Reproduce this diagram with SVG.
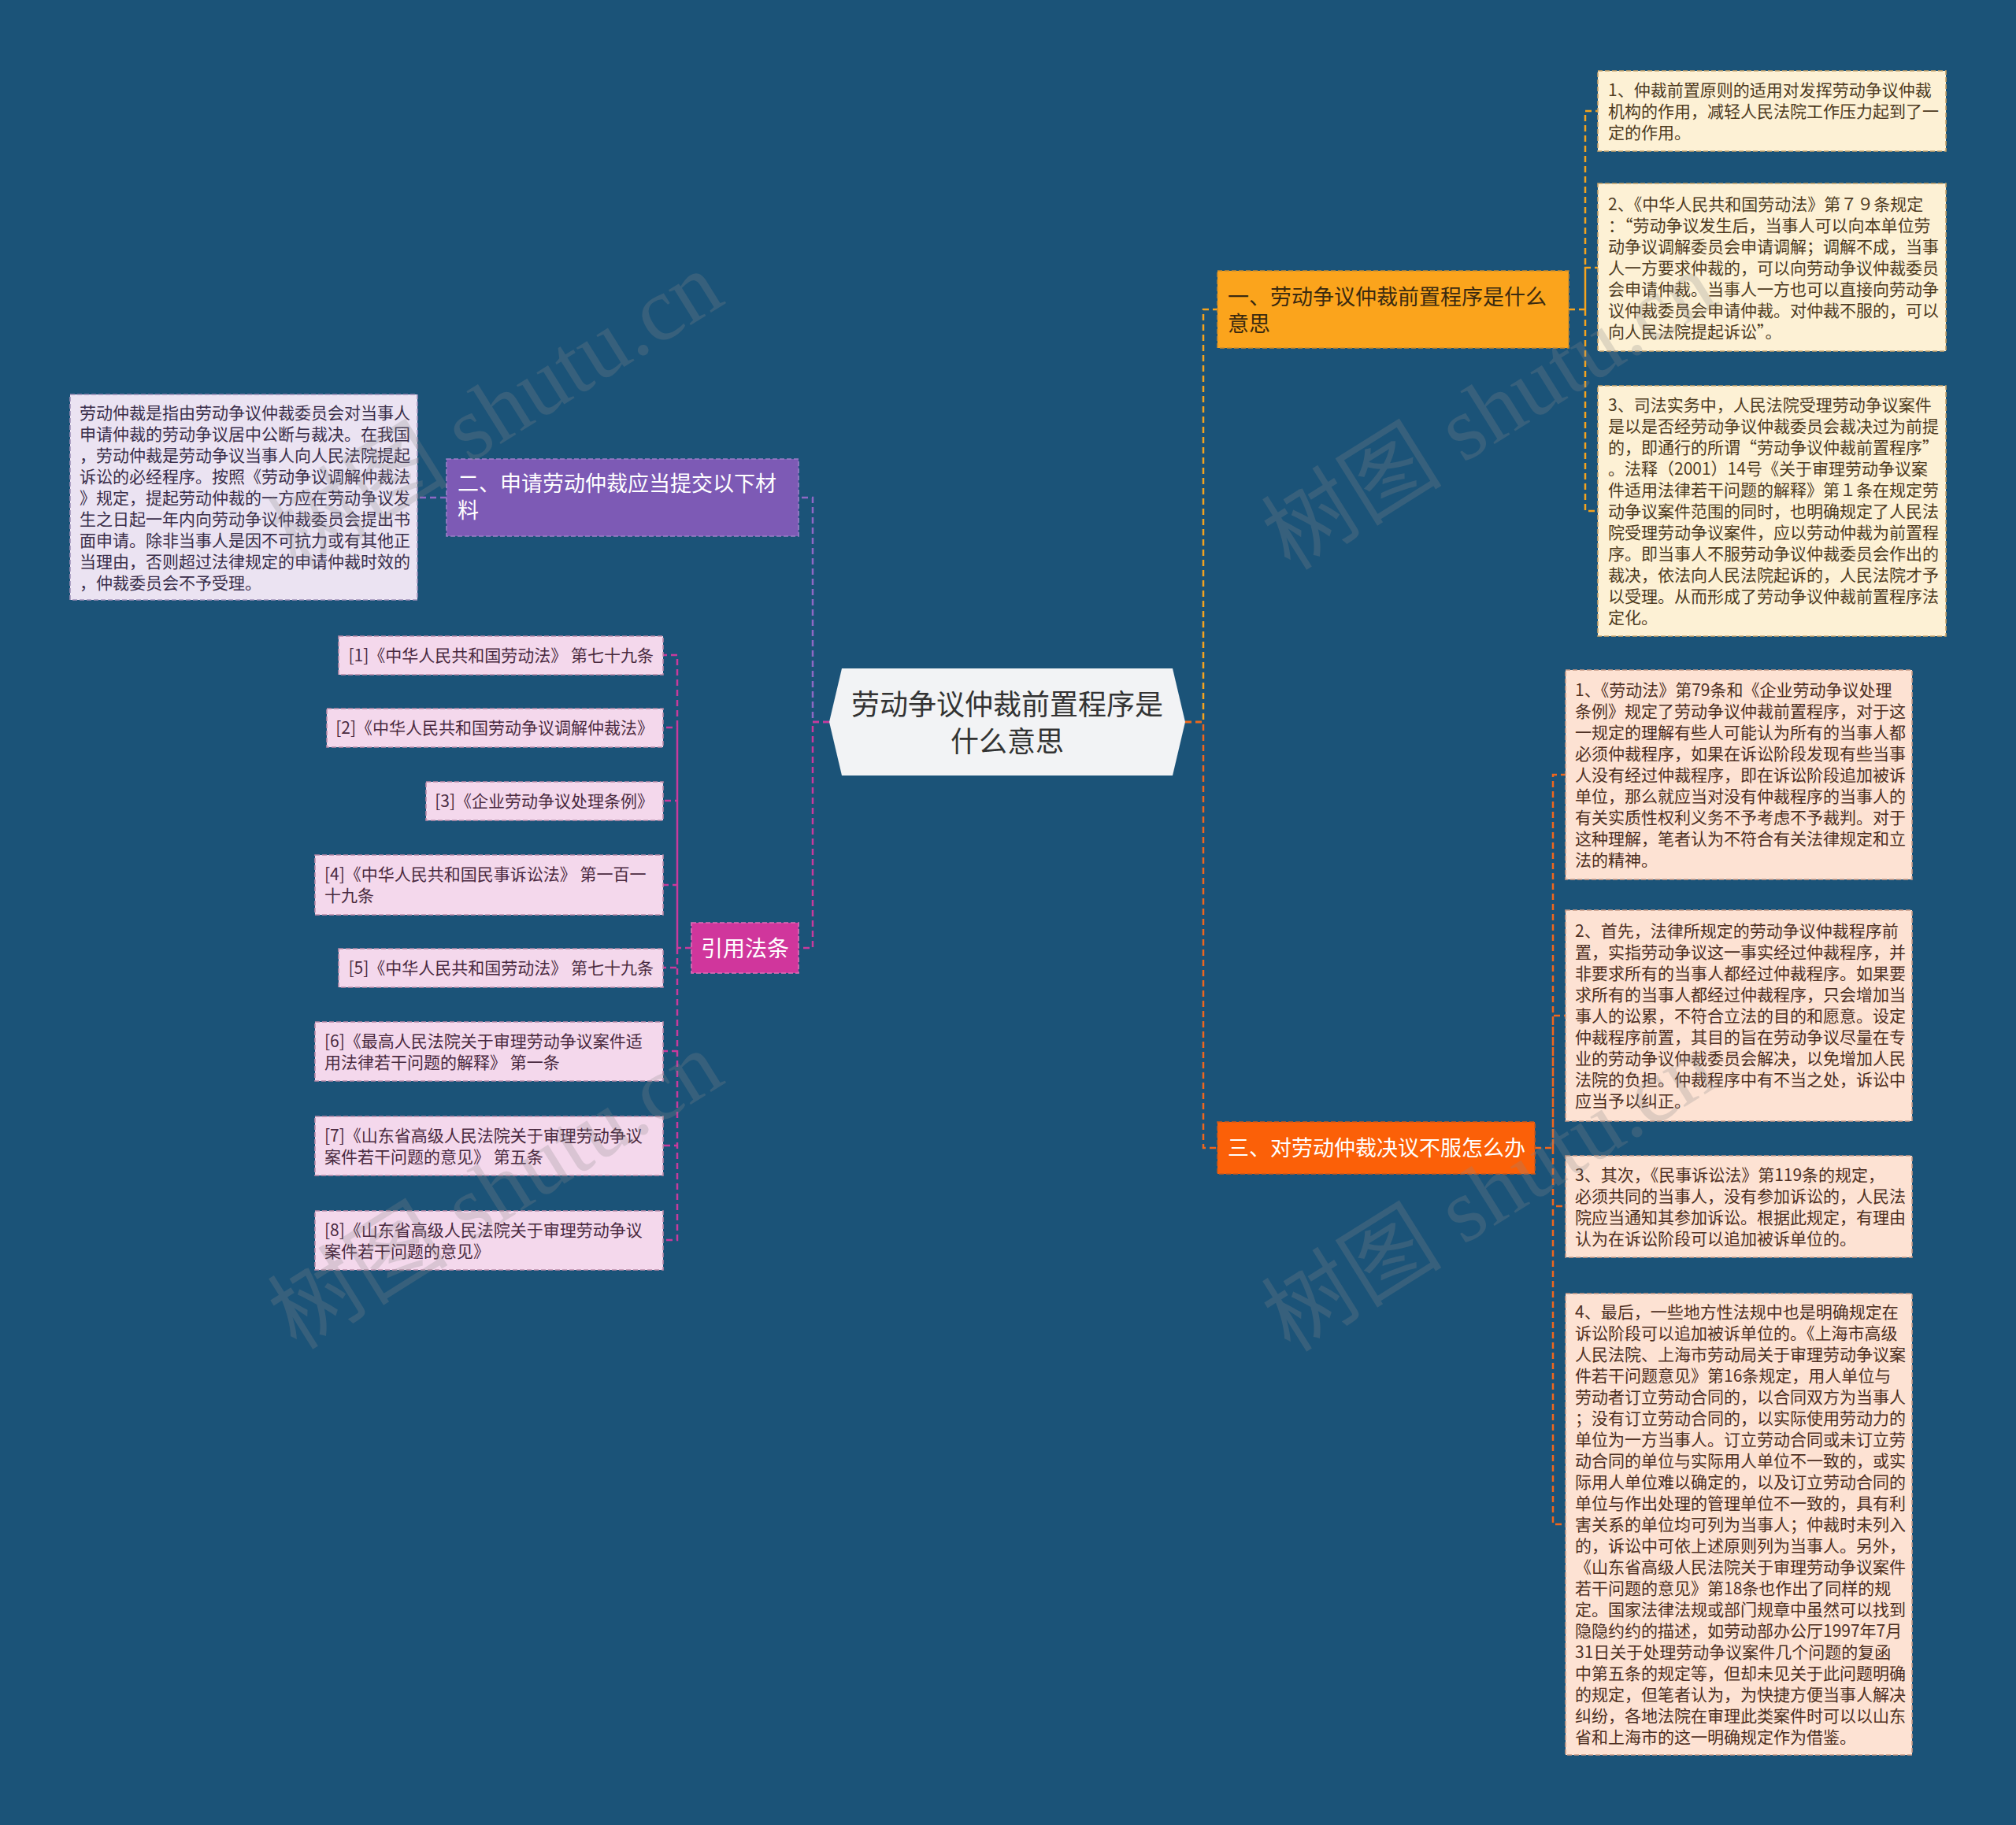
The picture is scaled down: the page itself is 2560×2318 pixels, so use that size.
<svg xmlns="http://www.w3.org/2000/svg" width="2560" height="2318" viewBox="0 0 2560 2318">
<style>
text{font-family:"Noto Sans CJK SC","Noto Sans",sans-serif}
.lf{font-size:21px}
.c{fill:none;stroke-width:2.5;stroke-dasharray:8 5}
.bx{stroke-width:1.6;stroke-dasharray:6 3}
.wm{font-family:"Liberation Serif","Noto Sans CJK SC",serif;font-size:115px;fill:#8a8a8a;opacity:0.25}
</style>
<rect x="0" y="0" width="2560" height="2318" fill="#1b5378"/>
<g id="connectors">
<path class="c" stroke="#f5a31d" d="M1505,917 H1528 V393 H1546"/>
<path class="c" stroke="#f0661c" d="M1505,917 H1528 V1458 H1546"/>
<path class="c" stroke="#8e68c4" d="M1053,917 H1032 V632 H1014"/>
<path class="c" stroke="#c93a9c" d="M1053,917 H1032 V1204 H1014"/>
<path class="c" stroke="#f5a31d" d="M1992,393 H2013 V141 H2029 M2013,393 V340 H2029 M2013,393 V649 H2029"/>
<path class="c" stroke="#f0661c" d="M1949,1458 H1972 V984 H1988 M1972,1458 V1290 H1988 M1972,1458 V1532 H1988 M1972,1458 V1936 H1988"/>
<path class="c" stroke="#8e68c4" d="M567,632 H530"/>
<path class="c" stroke="#c93a9c" d="M878,1204 H860 V832 H842 M860,1204 V924 H842 M860,1204 V1017 H842 M860,1204 V1124 H842 M860,1204 V1229 H842 M860,1204 V1335 H842 M860,1204 V1455 H842 M860,1204 V1575 H842"/>
</g>
<g id="center">
<polygon points="1069,849 1489,849 1505,917 1489,985 1069,985 1053,917" fill="#f2f3f5"/>
<text x="1279" y="908" font-size="36" fill="#333" text-anchor="middle">劳动争议仲裁前置程序是</text>
<text x="1279" y="955" font-size="36" fill="#333" text-anchor="middle">什么意思</text>
</g>
<g id="branch1">
<rect class="bx" x="1546" y="344" width="446" height="98" fill="#fba41c" stroke="#c98b2e"/>
<text x="1559" y="387" font-size="27" fill="#3a2a10">一、劳动争议仲裁前置程序是什么</text>
<text x="1559" y="421" font-size="27" fill="#3a2a10">意思</text>
</g>
<g id="branch2">
<rect class="bx" x="567" y="583" width="447" height="98" fill="#7d5ab5" stroke="#9c80c8"/>
<text x="581" y="624" font-size="27" fill="#fff">二、申请劳动仲裁应当提交以下材</text>
<text x="581" y="658" font-size="27" fill="#fff">料</text>
</g>
<g id="branch3">
<rect class="bx" x="1546" y="1425" width="403" height="66" fill="#fb6008" stroke="#c9581c"/>
<text x="1559" y="1468" font-size="27" fill="#fff">三、对劳动仲裁决议不服怎么办</text>
</g>
<g id="branch4">
<rect class="bx" x="878" y="1172" width="136" height="64" fill="#d0369c" stroke="#e070b8"/>
<text x="946" y="1215" font-size="28" fill="#fff" text-anchor="middle">引用法条</text>
</g>
<g id="b1-leaf1">
<rect class="bx" x="2029" y="90" width="442" height="102" fill="#fdf1d5" stroke="#c9a46a"/>
<text class="lf" fill="#4e3b1f"><tspan x="2042" y="122">1、仲裁前置原则的适用对发挥劳动争议仲裁</tspan><tspan x="2042" y="149">机构的作用，减轻人民法院工作压力起到了一</tspan><tspan x="2042" y="176">定的作用。</tspan></text>
</g>
<g id="b1-leaf2">
<rect class="bx" x="2029" y="233" width="442" height="213" fill="#fdf1d5" stroke="#c9a46a"/>
<text class="lf" fill="#4e3b1f"><tspan x="2042" y="266.5">2、《中华人民共和国劳动法》第７９条规定</tspan><tspan x="2042" y="293.5">：“劳动争议发生后，当事人可以向本单位劳</tspan><tspan x="2042" y="320.5">动争议调解委员会申请调解；调解不成，当事</tspan><tspan x="2042" y="347.5">人一方要求仲裁的，可以向劳动争议仲裁委员</tspan><tspan x="2042" y="374.5">会申请仲裁。当事人一方也可以直接向劳动争</tspan><tspan x="2042" y="401.5">议仲裁委员会申请仲裁。对仲裁不服的，可以</tspan><tspan x="2042" y="428.5">向人民法院提起诉讼”。</tspan></text>
</g>
<g id="b1-leaf3">
<rect class="bx" x="2029" y="490" width="442" height="318" fill="#fdf1d5" stroke="#c9a46a"/>
<text class="lf" fill="#4e3b1f"><tspan x="2042" y="522">3、司法实务中，人民法院受理劳动争议案件</tspan><tspan x="2042" y="549">是以是否经劳动争议仲裁委员会裁决过为前提</tspan><tspan x="2042" y="576">的，即通行的所谓“劳动争议仲裁前置程序”</tspan><tspan x="2042" y="603">。法释（2001）14号《关于审理劳动争议案</tspan><tspan x="2042" y="630">件适用法律若干问题的解释》第１条在规定劳</tspan><tspan x="2042" y="657">动争议案件范围的同时，也明确规定了人民法</tspan><tspan x="2042" y="684">院受理劳动争议案件，应以劳动仲裁为前置程</tspan><tspan x="2042" y="711">序。即当事人不服劳动争议仲裁委员会作出的</tspan><tspan x="2042" y="738">裁决，依法向人民法院起诉的，人民法院才予</tspan><tspan x="2042" y="765">以受理。从而形成了劳动争议仲裁前置程序法</tspan><tspan x="2042" y="792">定化。</tspan></text>
</g>
<g id="b3-leaf1">
<rect class="bx" x="1988" y="851" width="440" height="266" fill="#fde2d3" stroke="#c99a86"/>
<text class="lf" fill="#4d2f22"><tspan x="2000" y="884">1、《劳动法》第79条和《企业劳动争议处理</tspan><tspan x="2000" y="911">条例》规定了劳动争议仲裁前置程序，对于这</tspan><tspan x="2000" y="938">一规定的理解有些人可能认为所有的当事人都</tspan><tspan x="2000" y="965">必须仲裁程序，如果在诉讼阶段发现有些当事</tspan><tspan x="2000" y="992">人没有经过仲裁程序，即在诉讼阶段追加被诉</tspan><tspan x="2000" y="1019">单位，那么就应当对没有仲裁程序的当事人的</tspan><tspan x="2000" y="1046">有关实质性权利义务不予考虑不予裁判。对于</tspan><tspan x="2000" y="1073">这种理解，笔者认为不符合有关法律规定和立</tspan><tspan x="2000" y="1100">法的精神。</tspan></text>
</g>
<g id="b3-leaf2">
<rect class="bx" x="1988" y="1156" width="440" height="268" fill="#fde2d3" stroke="#c99a86"/>
<text class="lf" fill="#4d2f22"><tspan x="2000" y="1190">2、首先，法律所规定的劳动争议仲裁程序前</tspan><tspan x="2000" y="1217">置，实指劳动争议这一事实经过仲裁程序，并</tspan><tspan x="2000" y="1244">非要求所有的当事人都经过仲裁程序。如果要</tspan><tspan x="2000" y="1271">求所有的当事人都经过仲裁程序，只会增加当</tspan><tspan x="2000" y="1298">事人的讼累，不符合立法的目的和愿意。设定</tspan><tspan x="2000" y="1325">仲裁程序前置，其目的旨在劳动争议尽量在专</tspan><tspan x="2000" y="1352">业的劳动争议仲裁委员会解决，以免增加人民</tspan><tspan x="2000" y="1379">法院的负担。仲裁程序中有不当之处，诉讼中</tspan><tspan x="2000" y="1406">应当予以纠正。</tspan></text>
</g>
<g id="b3-leaf3">
<rect class="bx" x="1988" y="1468" width="440" height="129" fill="#fde2d3" stroke="#c99a86"/>
<text class="lf" fill="#4d2f22"><tspan x="2000" y="1500">3、其次，《民事诉讼法》第119条的规定，</tspan><tspan x="2000" y="1527">必须共同的当事人，没有参加诉讼的，人民法</tspan><tspan x="2000" y="1554">院应当通知其参加诉讼。根据此规定，有理由</tspan><tspan x="2000" y="1581">认为在诉讼阶段可以追加被诉单位的。</tspan></text>
</g>
<g id="b3-leaf4">
<rect class="bx" x="1988" y="1643" width="440" height="586" fill="#fde2d3" stroke="#c99a86"/>
<text class="lf" fill="#4d2f22"><tspan x="2000" y="1674">4、最后，一些地方性法规中也是明确规定在</tspan><tspan x="2000" y="1701">诉讼阶段可以追加被诉单位的。《上海市高级</tspan><tspan x="2000" y="1728">人民法院、上海市劳动局关于审理劳动争议案</tspan><tspan x="2000" y="1755">件若干问题意见》第16条规定，用人单位与</tspan><tspan x="2000" y="1782">劳动者订立劳动合同的，以合同双方为当事人</tspan><tspan x="2000" y="1809">；没有订立劳动合同的，以实际使用劳动力的</tspan><tspan x="2000" y="1836">单位为一方当事人。订立劳动合同或未订立劳</tspan><tspan x="2000" y="1863">动合同的单位与实际用人单位不一致的，或实</tspan><tspan x="2000" y="1890">际用人单位难以确定的，以及订立劳动合同的</tspan><tspan x="2000" y="1917">单位与作出处理的管理单位不一致的，具有利</tspan><tspan x="2000" y="1944">害关系的单位均可列为当事人；仲裁时未列入</tspan><tspan x="2000" y="1971">的，诉讼中可依上述原则列为当事人。另外，</tspan><tspan x="2000" y="1998">《山东省高级人民法院关于审理劳动争议案件</tspan><tspan x="2000" y="2025">若干问题的意见》第18条也作出了同样的规</tspan><tspan x="2000" y="2052">定。国家法律法规或部门规章中虽然可以找到</tspan><tspan x="2000" y="2079">隐隐约约的描述，如劳动部办公厅1997年7月</tspan><tspan x="2000" y="2106">31日关于处理劳动争议案件几个问题的复函</tspan><tspan x="2000" y="2133">中第五条的规定等，但却未见关于此问题明确</tspan><tspan x="2000" y="2160">的规定，但笔者认为，为快捷方便当事人解决</tspan><tspan x="2000" y="2187">纠纷，各地法院在审理此类案件时可以以山东</tspan><tspan x="2000" y="2214">省和上海市的这一明确规定作为借鉴。</tspan></text>
</g>
<g id="b2-leaf">
<rect class="bx" x="89" y="501" width="441" height="261" fill="#ebe3f2" stroke="#9f90b8"/>
<text class="lf" fill="#3a2e4a"><tspan x="101" y="531.5">劳动仲裁是指由劳动争议仲裁委员会对当事人</tspan><tspan x="101" y="558.5">申请仲裁的劳动争议居中公断与裁决。在我国</tspan><tspan x="101" y="585.5">，劳动仲裁是劳动争议当事人向人民法院提起</tspan><tspan x="101" y="612.5">诉讼的必经程序。按照《劳动争议调解仲裁法</tspan><tspan x="101" y="639.5">》规定，提起劳动仲裁的一方应在劳动争议发</tspan><tspan x="101" y="666.5">生之日起一年内向劳动争议仲裁委员会提出书</tspan><tspan x="101" y="693.5">面申请。除非当事人是因不可抗力或有其他正</tspan><tspan x="101" y="720.5">当理由，否则超过法律规定的申请仲裁时效的</tspan><tspan x="101" y="747.5">，仲裁委员会不予受理。</tspan></text>
</g>
<g id="cite1">
<rect class="bx" x="430" y="808" width="412" height="49" fill="#f4d8ec" stroke="#b98aa8"/>
<text class="lf" x="830" y="840" fill="#4a2a40" text-anchor="end">[1]《中华人民共和国劳动法》 第七十九条</text>
</g>
<g id="cite2">
<rect class="bx" x="415" y="900" width="427" height="49" fill="#f4d8ec" stroke="#b98aa8"/>
<text class="lf" x="830" y="932" fill="#4a2a40" text-anchor="end">[2]《中华人民共和国劳动争议调解仲裁法》</text>
</g>
<g id="cite3">
<rect class="bx" x="541" y="993" width="301" height="49" fill="#f4d8ec" stroke="#b98aa8"/>
<text class="lf" x="830" y="1025" fill="#4a2a40" text-anchor="end">[3]《企业劳动争议处理条例》</text>
</g>
<g id="cite4">
<rect class="bx" x="400" y="1086" width="442" height="76" fill="#f4d8ec" stroke="#b98aa8"/>
<text class="lf" fill="#4a2a40"><tspan x="412" y="1118">[4]《中华人民共和国民事诉讼法》 第一百一</tspan><tspan x="412" y="1145">十九条</tspan></text>
</g>
<g id="cite5">
<rect class="bx" x="430" y="1205" width="412" height="49" fill="#f4d8ec" stroke="#b98aa8"/>
<text class="lf" x="830" y="1237" fill="#4a2a40" text-anchor="end">[5]《中华人民共和国劳动法》 第七十九条</text>
</g>
<g id="cite6">
<rect class="bx" x="400" y="1298" width="442" height="75" fill="#f4d8ec" stroke="#b98aa8"/>
<text class="lf" fill="#4a2a40"><tspan x="412" y="1330">[6]《最高人民法院关于审理劳动争议案件适</tspan><tspan x="412" y="1357">用法律若干问题的解释》 第一条</tspan></text>
</g>
<g id="cite7">
<rect class="bx" x="400" y="1418" width="442" height="75" fill="#f4d8ec" stroke="#b98aa8"/>
<text class="lf" fill="#4a2a40"><tspan x="412" y="1450">[7]《山东省高级人民法院关于审理劳动争议</tspan><tspan x="412" y="1477">案件若干问题的意见》 第五条</tspan></text>
</g>
<g id="cite8">
<rect class="bx" x="400" y="1538" width="442" height="75" fill="#f4d8ec" stroke="#b98aa8"/>
<text class="lf" fill="#4a2a40"><tspan x="412" y="1570">[8]《山东省高级人民法院关于审理劳动争议</tspan><tspan x="412" y="1597">案件若干问题的意见》</tspan></text>
</g>
<g id="watermarks">
<text class="wm" transform="translate(650,555) rotate(-32)" text-anchor="middle">树图 shutu.cn</text>
<text class="wm" transform="translate(1912,555) rotate(-32)" text-anchor="middle">树图 shutu.cn</text>
<text class="wm" transform="translate(650,1545) rotate(-32)" text-anchor="middle">树图 shutu.cn</text>
<text class="wm" transform="translate(1912,1548) rotate(-32)" text-anchor="middle">树图 shutu.cn</text>
</g>
</svg>
